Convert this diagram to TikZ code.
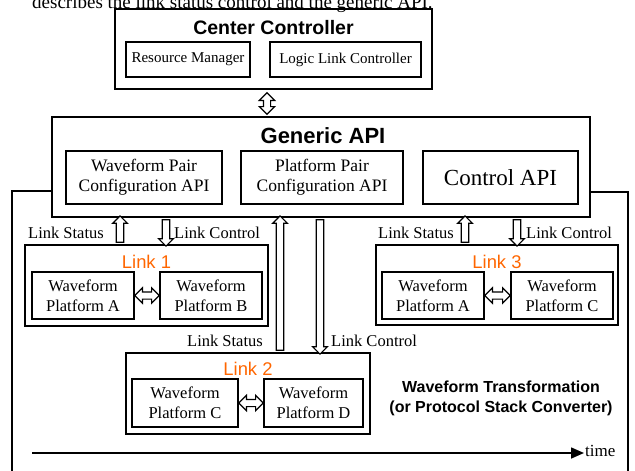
\documentclass[tikz,border=0pt]{standalone}
\usepackage{fontspec}
\setmainfont{Liberation Serif}
\setsansfont{Liberation Sans}
\usetikzlibrary{arrows.meta,calc,shapes.arrows}
\definecolor{linkorange}{RGB}{255,102,0}
% hollow block arrow laid between two points: [shape style]{from}{to}
\newcommand\blockarrow[3][harrow]{%
  \path let \p1=(#2), \p2=(#3),
    \n1={veclen(\x2-\x1,\y2-\y1)}, \n2={atan2(\y2-\y1,\x2-\x1)} in
    node[#1, minimum height=\n1, rotate=\n2] at ($(\p1)!0.5!(\p2)$) {};}
\begin{document}
\begin{tikzpicture}[x=1pt,y=-1pt,
  box/.style={draw, line width=1.6pt, inner sep=0pt, align=center},
  pbox/.style={box, minimum width=102pt, minimum height=47pt,
    font=\fontsize{16.5}{20}\selectfont},
  abox/.style={box, minimum height=53pt, font=\fontsize{17.5}{20}\selectfont},
  title/.style={font=\bfseries\sffamily, inner sep=0pt},
  linktitle/.style={font=\sffamily\fontsize{18.4}{20}\selectfont, text=linkorange, inner sep=0pt},
  lbl/.style={font=\fontsize{16.5}{19}\selectfont, inner sep=0pt},
  harrow/.style={single arrow, draw, fill=white, line width=1.2pt,
    inner xsep=0pt, inner ysep=3.2pt, minimum width=0pt,
    single arrow head extend=3.6pt, single arrow tip angle=90},
  hdarrow/.style={double arrow, draw, fill=white, line width=1.2pt,
    inner xsep=0pt, inner ysep=3pt, minimum width=0pt,
    double arrow head extend=4pt, double arrow tip angle=90},
  frame/.style={line width=1.6pt}]
\useasboundingbox (0,0) rectangle (635,471);
\clip (0,0) rectangle (635,471);

% running text above the figure
\node[anchor=base west, inner sep=0pt, font=\fontsize{19}{22}\selectfont] (cap) at (32,9)
  {describes the link status control and the generic API.};

% center controller
\node[box, minimum width=317pt, minimum height=80pt] (cc) at (273.5,49) {};
\node[title, font=\bfseries\sffamily\fontsize{19.5}{22}\selectfont] (cct) at (273.5,28) {Center Controller};
\node[box, minimum width=124pt, minimum height=35pt, font=\fontsize{15}{18}\selectfont] (rm) at (188,59.5) {Resource Manager};
\node[box, minimum width=151pt, minimum height=35pt, font=\fontsize{15}{18}\selectfont] (llc) at (345.5,59.5) {Logic Link Controller};

% generic API
\node[box, minimum width=538pt, minimum height=100pt] (api) at (321,167) {};
\node[title, font=\bfseries\sffamily\fontsize{22}{24}\selectfont] (apit) at (323,136) {Generic API};
\node[abox, minimum width=156pt] (wpc) at (144,177.5) {Waveform Pair\\Configuration API};
\node[abox, minimum width=162pt] (ppc) at (322,177.5) {Platform Pair\\Configuration API};
\node[abox, minimum width=155pt, font=\fontsize{23}{26}\selectfont] (capi) at (500.5,177.5) {Control API};

\coordinate (ccA) at ($(cc.south -| 267,0)+(0,3)$);
\coordinate (apiA) at ($(api.north -| 267,0)+(0,-2)$);
\blockarrow[hdarrow]{ccA}{apiA}

% outer frame
\draw[frame] (api.west |- 0,191) -- (12,191) -- (12,480);
\draw[frame] (api.east |- 0,192) -- (628,192) -- (628,480);

% link 1
\node[box, minimum width=243pt, minimum height=81pt] (link1) at (146.5,285.5) {};
\node[linktitle] (l1t) at (146.5,262) {Link 1};
\node[pbox] (l1a) at (83,295.5) {Waveform\\Platform A};
\node[pbox] (l1b) at (211,295.5) {Waveform\\Platform B};
\blockarrow[hdarrow]{l1a.east}{l1b.west}

% link 3
\node[box, minimum width=242pt, minimum height=80pt] (link3) at (497,285) {};
\node[linktitle] (l3t) at (497,262) {Link 3};
\node[pbox] (l3a) at (433,295.5) {Waveform\\Platform A};
\node[pbox] (l3c) at (562,295.5) {Waveform\\Platform C};
\blockarrow[hdarrow]{l3a.east}{l3c.west}

% link 2
\node[box, minimum width=244pt, minimum height=81pt] (link2) at (248,393.5) {};
\node[linktitle] (l2t) at (248,369) {Link 2};
\node[pbox, minimum width=106pt, minimum height=48pt] (l2c) at (185,403) {Waveform\\Platform C};
\node[pbox, minimum width=99pt, minimum height=48pt] (l2d) at (313.5,403) {Waveform\\Platform D};
\blockarrow[hdarrow]{l2c.east}{l2d.west}

% status (up) and control (down) channels
\blockarrow{link1.north -| 120,0}{api.south -| 120,0}
\blockarrow{api.south -| 166,0}{link1.north -| 166,0}
\blockarrow{link2.north -| 280,0}{api.south -| 280,0}
\blockarrow{api.south -| 320,0}{link2.north -| 320,0}
\blockarrow{link3.north -| 465,0}{api.south -| 465,0}
\blockarrow{api.south -| 517,0}{link3.north -| 517,0}

\node[lbl, anchor=east] (s1) at (104,233) {Link Status};
\node[lbl, anchor=west] (c1) at (174,233) {Link Control};
\node[lbl, anchor=east] (s2) at (263,341) {Link Status};
\node[lbl, anchor=west] (c2) at (331,341) {Link Control};
\node[lbl, anchor=east] (s3) at (454,233) {Link Status};
\node[lbl, anchor=west] (c3) at (526,233) {Link Control};

% transformation label
\node[font=\bfseries\sffamily\fontsize{16}{20}\selectfont, align=center, inner sep=0pt] (wt) at (501,398)
  {Waveform Transformation\\(or Protocol Stack Converter)};

% time axis
\coordinate (t0) at (32,453);
\node[anchor=west, inner sep=1pt, font=\fontsize{17}{20}\selectfont] (time) at (584,451) {time};
\draw[line width=1.6pt, -{Triangle[length=13pt,width=11pt]}] (t0) -- (time.west |- t0);
\end{tikzpicture}
\end{document}
